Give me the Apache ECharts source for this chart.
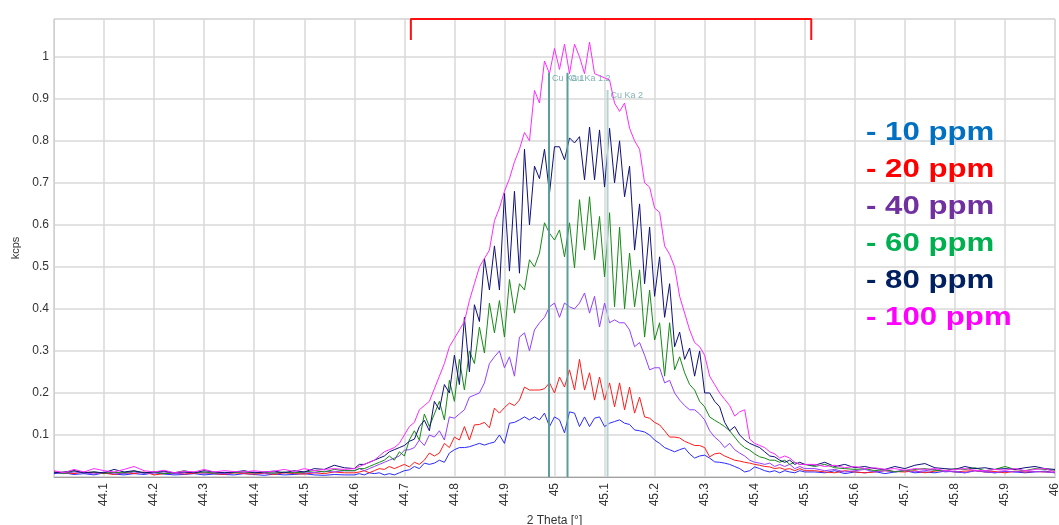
<!DOCTYPE html>
<html>
<head>
<meta charset="utf-8">
<script src="https://cdn.jsdelivr.net/npm/echarts@6.0.0/dist/echarts.min.js"></script>
<style>
  html, body { margin: 0; padding: 0; background: #fff; }
  #chart { width: 1059px; height: 525px; }
</style>
</head>
<body>
<div id="chart"></div>
<script>
// Scan grid: coarse steps on the flat baseline, fine steps through the peak
// ----------
function range(a, b, step) {
    var out = []
    var n = Math.round((b - a) / step)
    for (var i = 0; i <= n; i++) out.push(+(a + i * step).toFixed(3))
    return out
}
var thetaLeft = range(44.00, 44.58, 0.02)   // 30 pts
var thetaPeak = range(44.60, 45.50, 0.01)   // 91 pts
var thetaRight = range(45.52, 46.00, 0.02)  // 25 pts
var theta = thetaLeft.concat(thetaPeak, thetaRight)

// Intensities (kcps)
// ----------
var ppm10 = [
    // 44.00 - 44.58
    0.008,0.01,0.006,0.008,0.005,0.01,0.007,0.005,0.008,0.006,0.01,0.007,0.005,0.006,0.008,
    0.005,0.007,0.006,0.005,0.008,0.006,0.004,0.007,0.005,0.006,0.008,0.005,0.004,0.006,0.005,
    // 44.60 - 45.50
    0.005,0.008,0.005,0.01,0.008,0.01,0.005,0.008,0.005,0.01,
    0.015,0.017,0.025,0.02,0.033,0.03,0.033,0.04,0.035,0.057,
    0.065,0.07,0.07,0.072,0.076,0.08,0.076,0.08,0.083,0.10,
    0.08,0.128,0.13,0.136,0.143,0.136,0.143,0.136,0.152,0.12,
    0.143,0.136,0.105,0.155,0.152,0.12,0.143,0.12,0.14,0.143,
    0.12,0.128,0.132,0.136,0.128,0.125,0.112,0.11,0.107,0.10,
    0.088,0.08,0.07,0.065,0.06,0.065,0.069,0.055,0.045,0.05,
    0.052,0.045,0.036,0.035,0.033,0.03,0.025,0.02,0.012,0.015,
    0.024,0.02,0.015,0.012,0.015,0.01,0.015,0.012,0.01,0.015,
    0.012,
    // 45.52 - 46.00
    0.012,0.01,0.015,0.008,0.012,0.01,0.013,0.008,0.012,0.015,0.01,0.012,0.01,
    0.014,0.012,0.01,0.015,0.012,0.01,0.013,0.012,0.01,0.012,0.014,0.01
]
var ppm20 = [
    0.012,0.01,0.008,0.012,0.01,0.009,0.006,0.01,0.008,0.012,0.005,0.008,0.01,0.007,0.009,
    0.01,0.008,0.006,0.01,0.008,0.007,0.009,0.006,0.01,0.008,0.007,0.01,0.008,0.012,0.01,
    0.01,0.012,0.015,0.01,0.015,0.02,0.018,0.025,0.02,0.025,
    0.03,0.024,0.035,0.03,0.04,0.057,0.05,0.057,0.08,0.07,
    0.095,0.088,0.12,0.088,0.124,0.125,0.13,0.117,0.164,0.152,
    0.165,0.176,0.17,0.183,0.214,0.207,0.207,0.207,0.21,0.224,
    0.20,0.238,0.214,0.255,0.207,0.28,0.207,0.248,0.183,0.238,
    0.183,0.224,0.167,0.224,0.16,0.214,0.152,0.19,0.143,0.14,
    0.13,0.124,0.11,0.095,0.095,0.093,0.085,0.08,0.075,0.075,
    0.07,0.048,0.055,0.057,0.05,0.045,0.04,0.038,0.035,0.033,
    0.03,0.028,0.025,0.024,0.02,0.022,0.018,0.02,0.015,0.02,
    0.015,
    0.015,0.012,0.01,0.015,0.012,0.01,0.012,0.015,0.013,0.012,0.015,0.01,0.014,
    0.016,0.012,0.014,0.015,0.012,0.013,0.01,0.014,0.012,0.013,0.012,0.011
]
var ppm40 = [
    0.01,0.008,0.012,0.01,0.007,0.012,0.01,0.008,0.012,0.009,0.01,0.012,0.008,0.01,0.012,
    0.009,0.01,0.008,0.011,0.01,0.012,0.009,0.01,0.011,0.01,0.012,0.01,0.014,0.012,0.015,
    0.015,0.02,0.015,0.02,0.025,0.03,0.035,0.04,0.045,0.05,
    0.064,0.065,0.07,0.088,0.075,0.10,0.095,0.11,0.088,0.143,
    0.14,0.15,0.16,0.19,0.195,0.20,0.224,0.27,0.286,0.30,
    0.26,0.286,0.24,0.333,0.343,0.30,0.35,0.367,0.38,0.405,
    0.414,0.38,0.414,0.405,0.40,0.414,0.438,0.39,0.43,0.357,
    0.414,0.367,0.374,0.367,0.367,0.35,0.31,0.32,0.29,0.255,
    0.26,0.26,0.224,0.23,0.20,0.183,0.17,0.16,0.16,0.15,
    0.136,0.11,0.095,0.085,0.07,0.08,0.065,0.057,0.05,0.04,
    0.035,0.033,0.03,0.033,0.025,0.03,0.025,0.03,0.02,0.025,
    0.02,
    0.02,0.015,0.018,0.012,0.015,0.018,0.012,0.015,0.013,0.016,0.012,0.015,0.018,
    0.012,0.014,0.01,0.015,0.013,0.01,0.014,0.012,0.015,0.013,0.012,0.01
]
var ppm60 = [
    0.012,0.008,0.015,0.01,0.012,0.009,0.011,0.01,0.014,0.01,0.012,0.008,0.01,0.015,0.01,
    0.012,0.009,0.011,0.01,0.012,0.01,0.011,0.009,0.012,0.01,0.012,0.015,0.012,0.018,0.015,
    0.015,0.02,0.02,0.025,0.03,0.035,0.04,0.05,0.04,0.06,
    0.05,0.088,0.11,0.088,0.15,0.12,0.15,0.18,0.136,0.23,
    0.18,0.28,0.207,0.30,0.27,0.357,0.295,0.414,0.343,0.42,
    0.333,0.47,0.39,0.46,0.445,0.517,0.50,0.533,0.605,0.58,
    0.564,0.588,0.524,0.605,0.498,0.66,0.54,0.667,0.517,0.62,
    0.476,0.629,0.405,0.595,0.40,0.533,0.405,0.493,0.333,0.445,
    0.326,0.367,0.24,0.367,0.255,0.286,0.248,0.22,0.207,0.18,
    0.167,0.143,0.135,0.128,0.12,0.11,0.095,0.08,0.07,0.064,
    0.055,0.048,0.045,0.04,0.04,0.035,0.04,0.03,0.035,0.03,
    0.03,
    0.025,0.03,0.022,0.02,0.018,0.02,0.015,0.018,0.012,0.015,0.018,0.02,0.016,
    0.015,0.02,0.018,0.022,0.015,0.018,0.025,0.018,0.015,0.02,0.018,0.016
]
var ppm80 = [
    0.01,0.012,0.015,0.01,0.012,0.01,0.018,0.012,0.015,0.01,0.012,0.014,0.01,0.012,0.01,
    0.015,0.012,0.01,0.012,0.015,0.01,0.012,0.014,0.01,0.015,0.012,0.02,0.018,0.028,0.022,
    0.02,0.03,0.03,0.035,0.04,0.045,0.05,0.06,0.065,0.07,
    0.075,0.085,0.09,0.12,0.135,0.11,0.18,0.16,0.22,0.20,
    0.29,0.22,0.38,0.25,0.41,0.37,0.52,0.445,0.55,0.445,
    0.675,0.49,0.68,0.485,0.78,0.60,0.74,0.71,0.78,0.675,
    0.786,0.786,0.755,0.807,0.795,0.81,0.707,0.833,0.707,0.826,
    0.69,0.83,0.70,0.80,0.667,0.74,0.54,0.65,0.46,0.595,
    0.43,0.524,0.38,0.46,0.31,0.345,0.28,0.307,0.24,0.30,
    0.20,0.20,0.18,0.167,0.13,0.11,0.12,0.10,0.088,0.08,
    0.075,0.07,0.06,0.05,0.048,0.04,0.035,0.04,0.03,0.035,
    0.03,
    0.028,0.035,0.025,0.03,0.022,0.025,0.02,0.018,0.025,0.02,0.028,0.032,0.022,
    0.02,0.018,0.025,0.02,0.022,0.018,0.02,0.018,0.022,0.025,0.02,0.018
]
var ppm100 = [
    0.015,0.01,0.018,0.012,0.02,0.015,0.012,0.018,0.025,0.015,0.012,0.016,0.01,0.014,0.012,
    0.018,0.012,0.015,0.013,0.012,0.015,0.012,0.014,0.018,0.013,0.02,0.015,0.018,0.02,0.018,
    0.02,0.025,0.03,0.035,0.04,0.05,0.06,0.065,0.07,0.08,
    0.10,0.12,0.13,0.16,0.17,0.18,0.21,0.24,0.27,0.31,
    0.33,0.35,0.37,0.42,0.46,0.50,0.52,0.54,0.61,0.64,
    0.68,0.71,0.75,0.78,0.82,0.80,0.92,0.89,0.99,0.96,
    1.02,0.97,1.03,0.96,1.03,1.00,0.96,1.035,0.96,0.955,
    0.95,0.945,0.89,0.87,0.89,0.83,0.80,0.78,0.70,0.69,
    0.64,0.63,0.55,0.53,0.50,0.43,0.39,0.35,0.32,0.31,
    0.29,0.24,0.22,0.20,0.185,0.17,0.145,0.155,0.16,0.09,
    0.08,0.075,0.07,0.06,0.055,0.045,0.05,0.045,0.035,0.03,
    0.03,
    0.03,0.025,0.028,0.022,0.025,0.02,0.022,0.018,0.02,0.016,0.02,0.018,0.02,
    0.015,0.018,0.02,0.016,0.015,0.018,0.016,0.02,0.015,0.018,0.02,0.012
]

var seriesNames = ['10 ppm', '20 ppm', '40 ppm', '60 ppm', '80 ppm', '100 ppm']
var seriesValues = [ppm10, ppm20, ppm40, ppm60, ppm80, ppm100]
var lineColors = ['#2a2aff', '#ff1a1a', '#9440ff', '#168a16', '#10107a', '#ff2aff']
var legendColors = ['#0070c0', '#ff0000', '#7030a0', '#00b050', '#002060', '#ff00ff']

// Reference peak markers: [2theta, top of line, label]
var peakMarkers = [
    [44.989, 0.962, 'Cu Ka 1'],
    [45.026, 0.962, 'Cu Ka 1.2'],
    [45.106, 0.921, 'Cu Ka 2']
]
var markerColors = ['#5b9e9c', '#5b9e9c', '#b4d2d0']

// Red range bracket over the peak
var bracketTheta = [44.713, 45.513]
var bracketY = [1.04, 1.09]

var xTicks = { min: 44, max: 46, interval: 0.1 }
var yTicks = { min: 0, max: 1.09, interval: 0.1 }

// Build the chart
// ----------
var chart = echarts.init(document.getElementById('chart'), null, { renderer: 'canvas' })

var series = []
seriesValues.forEach(function (vals, i) {
    if (vals.length !== theta.length)
        throw new Error(seriesNames[i] + ' has ' + vals.length + ' values, expected ' + theta.length)
    series.push({
        name: seriesNames[i],
        type: 'line',
        showSymbol: false,
        symbol: 'none',
        lineStyle: { color: lineColors[i], width: 1 },
        data: theta.map(function (t, k) { return [t, vals[k]] }),
        z: 2
    })
})

peakMarkers.forEach(function (m, i) {
    series.push({
        type: 'line',
        symbol: 'none',
        lineStyle: { color: markerColors[i], width: 2 },
        data: [[m[0], 0], [m[0], m[1]]],
        z: 3
    })
    series.push({
        type: 'scatter',
        symbolSize: 0,
        data: [[m[0], m[1]]],
        label: {
            show: true,
            position: 'right',
            distance: 3,
            offset: [0, 6],
            formatter: m[2],
            fontFamily: 'Liberation Sans',
            fontSize: 9,
            color: '#5f9fa0'
        },
        z: 4
    })
})

series.push({
    type: 'line',
    symbol: 'none',
    clip: false,
    lineStyle: { color: '#ff1010', width: 2 },
    data: [
        [bracketTheta[0], bracketY[0]],
        [bracketTheta[0], bracketY[1]],
        [bracketTheta[1], bracketY[1]],
        [bracketTheta[1], bracketY[0]]
    ],
    z: 5
})

var legendText = seriesNames.map(function (n, i) {
    return {
        type: 'text',
        x: 866,
        y: 133 + i * 37,
        scaleX: 1.2,
        style: {
            text: '- ' + n,
            fill: legendColors[i],
            font: 'bold 26px "Liberation Sans", Arial, sans-serif',
            textVerticalAlign: 'middle'
        },
        z: 10
    }
})

var option = {
    animation: false,
    backgroundColor: '#fff',
    grid: {
        left: 54, right: 4, top: 19, bottom: 48,
        outerBoundsMode: 'none',
        containLabel: false,
        show: true, borderColor: '#d0d0d0', borderWidth: 1
    },
    xAxis: {
        type: 'value',
        min: xTicks.min, max: xTicks.max, interval: xTicks.interval,
        name: '2 Theta [°]',
        nameLocation: 'middle',
        nameGap: 34,
        nameTextStyle: { fontFamily: 'Liberation Sans', fontSize: 12, color: '#333' },
        axisLine: { show: true, lineStyle: { color: '#a0a0a0', width: 1 } },
        axisTick: { show: false },
        axisLabel: {
            rotate: 90,
            margin: 6,
            fontFamily: 'Liberation Sans',
            fontSize: 12,
            color: '#333',
            showMinLabel: false,
            formatter: function (v) { return String(+v.toFixed(1)) }
        },
        splitLine: { show: true, lineStyle: { color: '#d8d8d8', width: 1.5 } }
    },
    yAxis: {
        type: 'value',
        min: yTicks.min, max: yTicks.max, interval: yTicks.interval,
        name: 'kcps',
        nameLocation: 'middle',
        nameGap: 31,
        nameTextStyle: { fontFamily: 'Liberation Sans', fontSize: 11, color: '#333' },
        axisLine: { show: true, lineStyle: { color: '#d0d0d0' } },
        axisTick: { show: false },
        axisLabel: {
            margin: 5,
            fontFamily: 'Liberation Sans',
            fontSize: 12,
            color: '#333',
            formatter: function (v) {
                if (v <= 0 || v > 1.05) return ''
                return String(+v.toFixed(1))
            }
        },
        splitLine: { show: true, lineStyle: { color: '#d8d8d8', width: 1.5 } }
    },
    graphic: legendText,
    series: series
}

chart.setOption(option)
</script>
</body>
</html>
